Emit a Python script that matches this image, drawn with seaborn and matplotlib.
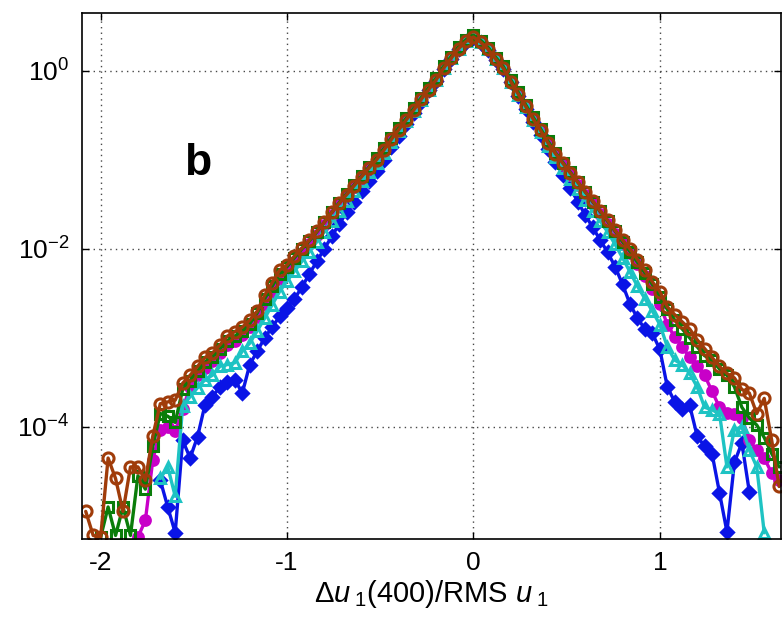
import numpy as np
import matplotlib
matplotlib.use("Agg")
import matplotlib.pyplot as plt
import seaborn as sns
from matplotlib.ticker import FixedLocator, NullLocator, LogFormatterMathtext

sns.set_theme(style="white")
plt.rcParams["font.family"] = ["Liberation Sans", "DejaVu Sans"]
plt.rcParams["mathtext.fontset"] = "custom"
plt.rcParams["mathtext.rm"] = "Liberation Sans"
plt.rcParams["mathtext.it"] = "Liberation Sans:italic"
plt.rcParams["mathtext.bf"] = "Liberation Sans:bold"
plt.rcParams["text.color"] = "black"
plt.rcParams["axes.labelcolor"] = "black"

# histogram bin centres (Delta u1 / RMS u1)
x_bins = np.round(np.arange(-2.08, 1.6401, 0.04), 2)

N = None
# log10 of the PDF, one value per bin
log10_pdf_brown = [
    -4.95, -5.22, -5.24, -4.35, -4.58, -4.95, -4.45, -4.45, -4.60, -4.10,
    -3.74, -3.72, -3.70, -3.51, -3.42, -3.32, -3.22, -3.17, -3.08, -2.98,
    -2.93, -2.88, -2.80, -2.70, -2.52, -2.38, -2.24, -2.18, -2.08, -1.99,
    -1.90, -1.80, -1.70, -1.59, -1.49, -1.39, -1.29, -1.19, -1.09, -1.00,
    -0.89, -0.77, -0.66, -0.55, -0.44, -0.32, -0.21, -0.10, 0.03, 0.14,
    0.25, 0.33, 0.38, 0.32, 0.24, 0.13, 0.03, -0.12, -0.26, -0.40,
    -0.54, -0.67, -0.81, -0.93, -1.04, -1.15, -1.25, -1.36, -1.46, -1.57,
    -1.68, -1.79, -1.90, -2.00, -2.12, -2.24, -2.37, -2.48, -2.65, -2.74,
    -2.82, -2.90, -3.02, -3.12, -3.22, -3.32, -3.40, -3.45, -3.58, -3.62,
    -3.85, -3.68, -4.15, -4.67]
log10_pdf_green = [
    N, N, -5.24, -4.90, -5.22, -4.90, -5.22, -4.55, -4.70, -4.22,
    -3.85, -3.88, -3.95, -3.58, -3.48, -3.37, -3.27, -3.21, -3.12, -3.03,
    -2.98, -2.92, -2.84, -2.72, -2.56, -2.42, -2.28, -2.20, -2.10, -2.00,
    -1.91, -1.81, -1.70, -1.59, -1.48, -1.38, -1.28, -1.18, -1.08, -0.98,
    -0.87, -0.75, -0.64, -0.53, -0.42, -0.30, -0.19, -0.08, 0.05, 0.16,
    0.27, 0.35, 0.40, 0.34, 0.26, 0.15, 0.05, -0.10, -0.24, -0.38,
    -0.52, -0.65, -0.79, -0.92, -1.03, -1.14, -1.25, -1.36, -1.47, -1.58,
    -1.69, -1.80, -1.92, -2.03, -2.15, -2.27, -2.40, -2.54, -2.68, -2.80,
    -2.90, -3.00, -3.10, -3.20, -3.25, -3.35, -3.42, -3.55, -3.78, -3.90,
    -3.98, -4.12, -4.30, -4.45]
log10_pdf_magenta = [
    N, N, N, N, N, N, N, -5.24, -5.05, -4.37,
    -4.03, -4.00, -4.05, -3.80, -3.55, -3.42, -3.34, -3.26, -3.17, -3.08,
    -3.03, -2.97, -2.88, -2.77, -2.62, -2.48, -2.34, -2.25, -2.15, -2.05,
    -1.95, -1.84, -1.73, -1.62, -1.51, -1.40, -1.30, -1.20, -1.10, -1.00,
    -0.89, -0.77, -0.66, -0.55, -0.44, -0.32, -0.21, -0.10, 0.03, 0.14,
    0.25, 0.33, 0.38, 0.32, 0.24, 0.13, 0.03, -0.12, -0.26, -0.40,
    -0.54, -0.68, -0.82, -0.95, -1.06, -1.17, -1.28, -1.39, -1.50, -1.61,
    -1.72, -1.83, -1.94, -2.05, -2.17, -2.30, -2.45, -2.62, -2.85, -2.99,
    -3.10, -3.22, -3.32, -3.42, -3.60, -3.78, -3.84, -3.86, -3.90, -4.15,
    -4.26, -4.35, -4.52, -4.60]
log10_pdf_cyan = [
    N, N, N, N, N, N, N, N, N, N,
    -4.58, -4.45, -4.78, -3.77, -3.66, -3.56, -3.47, -3.42, -3.32, -3.30,
    -3.28, -3.15, -3.06, -2.92, -2.78, -2.63, -2.48, -2.36, -2.25, -2.14,
    -2.03, -1.92, -1.81, -1.69, -1.57, -1.46, -1.35, -1.24, -1.14, -1.03,
    -0.92, -0.80, -0.68, -0.56, -0.45, -0.33, -0.21, -0.10, 0.03, 0.14,
    0.25, 0.33, 0.38, 0.32, 0.24, 0.13, 0.03, -0.12, -0.27, -0.41,
    -0.55, -0.69, -0.84, -0.97, -1.09, -1.21, -1.33, -1.45, -1.57, -1.69,
    -1.81, -1.95, -2.10, -2.26, -2.42, -2.56, -2.70, -2.85, -3.10, -3.25,
    -3.30, -3.40, -3.55, -3.78, -3.81, -3.85, -4.45, -4.03, -4.00, -4.26,
    -4.45, -5.19, N, N]
log10_pdf_blue = [
    N, N, N, N, N, N, N, N, N, N,
    -4.60, -4.90, -5.19, -4.15, -4.35, -4.11, -3.75, -3.66, -3.55, -3.50,
    -3.47, -3.62, -3.30, -3.15, -3.00, -2.88, -2.76, -2.66, -2.56, -2.43,
    -2.28, -2.14, -2.00, -1.86, -1.72, -1.59, -1.47, -1.35, -1.24, -1.12,
    -1.00, -0.86, -0.73, -0.60, -0.47, -0.35, -0.22, -0.11, 0.02, 0.13,
    0.24, 0.32, 0.37, 0.31, 0.23, 0.12, 0.02, -0.13, -0.28, -0.43,
    -0.58, -0.72, -0.88, -1.02, -1.17, -1.32, -1.47, -1.62, -1.76, -1.90,
    -2.04, -2.20, -2.40, -2.62, -2.78, -2.90, -2.95, -3.13, -3.55, -3.72,
    -3.80, -3.76, -4.10, -4.22, -4.30, -4.74, -5.18, -4.40, -4.18, -4.73,
    N, N, N, N]

x_ticks = [-2, -1, 0, 1]
y_ticks = [1e0, 1e-2, 1e-4]

series = [
    (log10_pdf_blue, "#0a14e6", "D", "#0a14e6", 6),
    (log10_pdf_magenta, "#c800c8", "o", "#c800c8", 7),
    (log10_pdf_cyan, "#1ec3c3", "^", "none", 7.5),
    (log10_pdf_green, "#0a7d0a", "s", "none", 7.5),
    (log10_pdf_brown, "#a03c0a", "o", "none", 8),
]

fig = plt.figure(figsize=(7.82, 6.29), dpi=100)
ax = fig.add_axes([82 / 782, 1 - 539 / 629, (781 - 82) / 782, (539 - 13) / 629])

for vals, col, mk, mfc, ms in series:
    y = 10 ** np.array([np.nan if v is None else v for v in vals], dtype=float)
    sns.lineplot(x=x_bins, y=y, ax=ax, color=col, marker=mk, markersize=ms,
                 markerfacecolor=mfc, markeredgecolor=col, markeredgewidth=2.2,
                 linewidth=2.4, estimator=None, sort=False, legend=False)

ax.set_yscale("log")
ax.set_xlim(-2.10, 1.65)
ax.set_ylim(10 ** -5.26, 10 ** 0.65)
ax.xaxis.set_major_locator(FixedLocator(x_ticks))
ax.yaxis.set_major_locator(FixedLocator(y_ticks))
ax.yaxis.set_minor_locator(NullLocator())
ax.yaxis.set_major_formatter(LogFormatterMathtext())
ax.set_xticklabels(["-2", "-1", "0", "1"])

ax.grid(True, which="major", linestyle=(0, (1, 3)), color="k", linewidth=1.0, alpha=0.8)
for s in ax.spines.values():
    s.set_color("black")
    s.set_linewidth(1.2)
ax.tick_params(direction="in", bottom=True, left=True, top=True, right=True,
               length=5, width=1, labelsize=19, pad=9, colors="black")

ax.set_xlabel(r"$\Delta\mathit{u}_{\;1}$(400)/RMS $\mathit{u}_{\;1}$", fontsize=21,
              labelpad=2, color="black")
ax.set_ylabel("")
ax.text(0.165, 0.713, "b", transform=ax.transAxes, fontsize=32, fontweight="bold",
        ha="center", va="center", color="black")

fig.savefig("out.png", dpi=100)
